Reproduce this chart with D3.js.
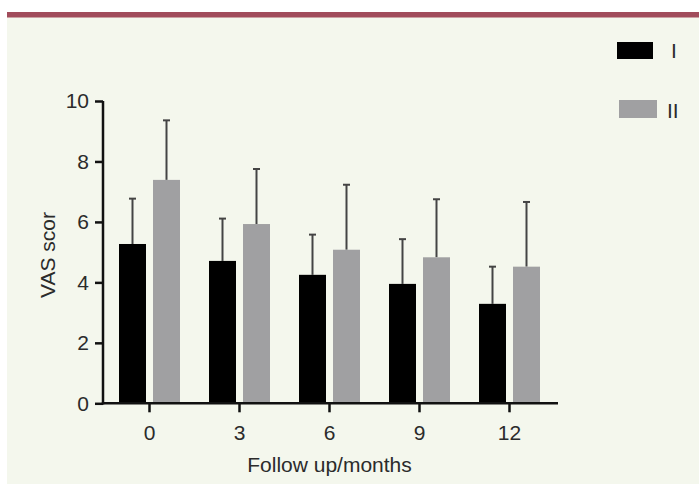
<!DOCTYPE html>
<html>
<head>
<meta charset="utf-8">
<script src="https://cdn.jsdelivr.net/npm/d3@7"></script>
<style>
  body { margin: 0; background: #fff; }
  svg text { font-family: "Liberation Sans", Arial, sans-serif; fill: #2b2b2b; }
</style>
</head>
<body>
<div id="chart"></div>
<script>
// chart data
const months = ["0", "3", "6", "9", "12"];
const series = ["I", "II"];
const meanI = [5.27, 4.71, 4.25, 3.95, 3.29];
const sdI = [1.50, 1.40, 1.33, 1.48, 1.23];
const meanII = [7.39, 5.93, 5.08, 4.83, 4.52];
const sdII = [1.97, 1.82, 2.15, 1.92, 2.14];
const yTicks = [0, 2, 4, 6, 8, 10];

const colors = { I: "#000000", II: "#a0a0a2" };

const width = 699, height = 485;

const svg = d3.select("#chart")
  .append("svg")
  .attr("width", width)
  .attr("height", height);

// panel background + top rule
svg.append("rect")
  .attr("x", 7).attr("y", 17)
  .attr("width", width - 7).attr("height", 467)
  .attr("fill", "#f4f7ed");
svg.append("rect")
  .attr("x", 7).attr("y", 12)
  .attr("width", width - 7).attr("height", 5.5)
  .attr("fill", "#a14c5b");

// scales
const x = d3.scaleBand()
  .domain(months)
  .range([104.5, 554.5]);

const xSub = d3.scaleBand()
  .domain(series)
  .range([14.5, 75.5])
  .paddingInner(7 / 34);

const y = d3.scaleLinear()
  .domain([0, 10])
  .range([403.3, 101]);

// build rows from the arrays
const rows = months.map((m, i) => ({
  month: m,
  values: [
    { key: "I", mean: meanI[i], sd: sdI[i] },
    { key: "II", mean: meanII[i], sd: sdII[i] }
  ]
}));

// bars
const group = svg.append("g")
  .selectAll("g")
  .data(rows)
  .join("g")
  .attr("transform", d => `translate(${x(d.month)},0)`);

// error bars (upper only) drawn behind the bars
const err = group.selectAll(".err")
  .data(d => d.values)
  .join("g")
  .attr("class", "err")
  .attr("stroke", "#444")
  .attr("stroke-width", 2);

err.append("line")
  .attr("x1", d => xSub(d.key) + xSub.bandwidth() / 2)
  .attr("x2", d => xSub(d.key) + xSub.bandwidth() / 2)
  .attr("y1", d => y(d.mean))
  .attr("y2", d => y(d.mean + d.sd));

err.append("line")
  .attr("x1", d => xSub(d.key) + xSub.bandwidth() / 2 - 3.5)
  .attr("x2", d => xSub(d.key) + xSub.bandwidth() / 2 + 3.5)
  .attr("y1", d => y(d.mean + d.sd))
  .attr("y2", d => y(d.mean + d.sd));

group.selectAll(".bar")
  .data(d => d.values)
  .join("rect")
  .attr("class", "bar")
  .attr("x", d => xSub(d.key))
  .attr("width", xSub.bandwidth())
  .attr("y", d => y(d.mean))
  .attr("height", d => y(0) - y(d.mean))
  .attr("fill", d => colors[d.key]);

// axes
const yAxis = svg.append("g")
  .attr("transform", "translate(103,0)")
  .call(d3.axisLeft(y).tickValues(yTicks).tickSize(8).tickPadding(6).tickSizeOuter(0));

const xAxis = svg.append("g")
  .attr("transform", `translate(0,${y(0)})`)
  .call(d3.axisBottom(x).tickSize(9).tickPadding(13).tickSizeOuter(0));

xAxis.select(".domain").attr("d", `M101.8,0H558`);
yAxis.select(".domain").attr("d", `M0,${y(10)}V${y(0) + 1.2}`);

[xAxis, yAxis].forEach(a => {
  a.selectAll(".domain, .tick line")
    .attr("stroke", "#111")
    .attr("stroke-width", 2.5);
  a.selectAll("text")
    .attr("font-size", 21)
    .attr("fill", "#2b2b2b");
});

// axis titles
svg.append("text")
  .attr("x", 329.5)
  .attr("y", 472)
  .attr("text-anchor", "middle")
  .attr("font-size", 21)
  .text("Follow up/months");

svg.append("text")
  .attr("transform", "translate(55,255) rotate(-90)")
  .attr("text-anchor", "middle")
  .attr("font-size", 21)
  .text("VAS scor");

// legend
const legend = [
  { key: "I", rx: 617, ry: 42, rw: 36, rh: 17, tx: 671, ty: 58 },
  { key: "II", rx: 619, ry: 100, rw: 38, rh: 18, tx: 667, ty: 118 }
];

svg.append("g")
  .selectAll("rect")
  .data(legend)
  .join("rect")
  .attr("x", d => d.rx).attr("y", d => d.ry)
  .attr("width", d => d.rw).attr("height", d => d.rh)
  .attr("fill", d => colors[d.key]);

svg.append("g")
  .selectAll("text")
  .data(legend)
  .join("text")
  .attr("x", d => d.tx).attr("y", d => d.ty)
  .attr("font-size", 21)
  .text(d => d.key);
</script>
</body>
</html>
